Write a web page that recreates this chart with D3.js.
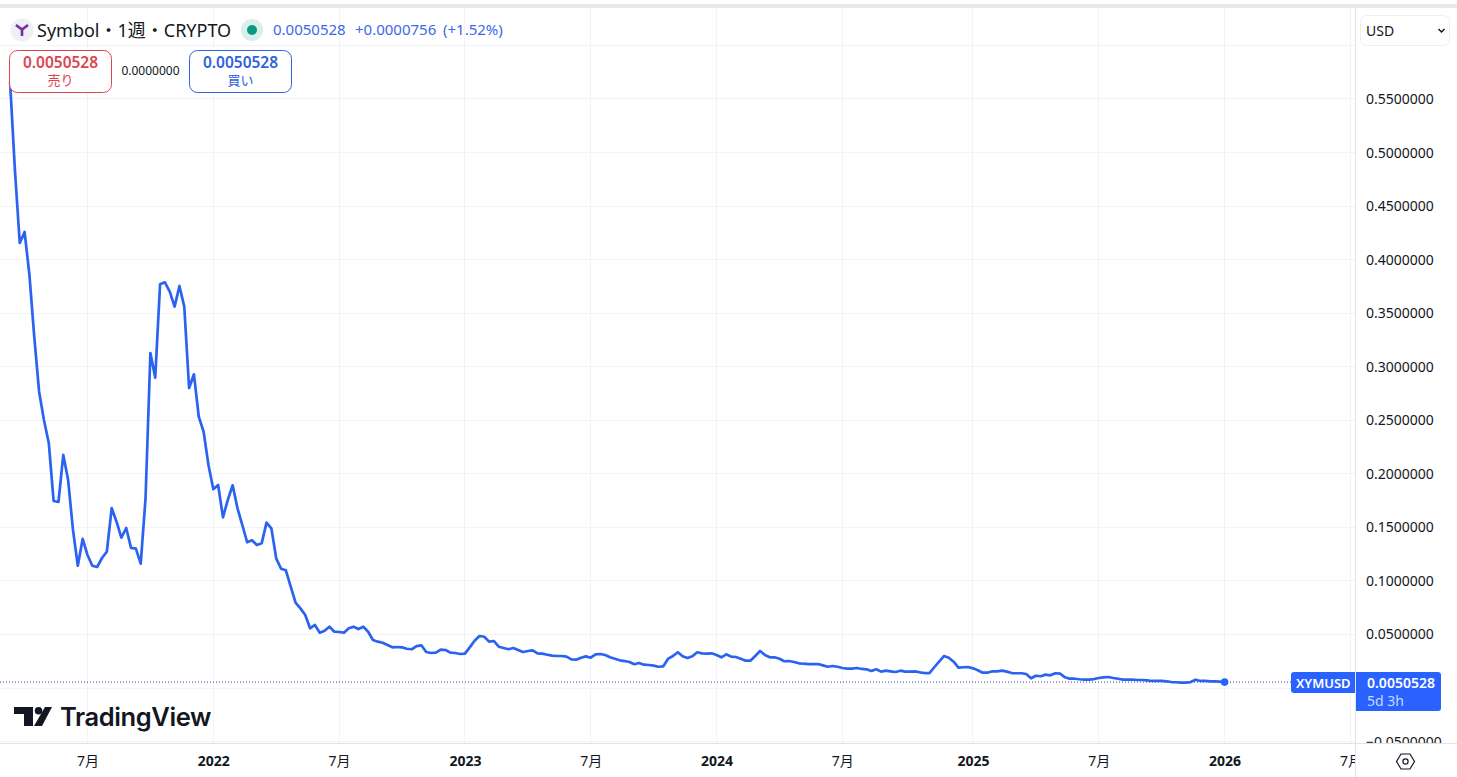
<!DOCTYPE html>
<html>
<head>
  <meta charset="utf-8">
  <title>Symbol 1週 CRYPTO</title>
  <script src="https://d3js.org/d3.v7.min.js"></script>
  <style>
    html, body { margin: 0; padding: 0; background: #fff; overflow: hidden; }
    svg { display: block; }
    text { font-family: "Noto Sans", "Noto Sans CJK JP", sans-serif; }
    .grid line { stroke: #f1f3f6; stroke-width: 1px; }
    .axis path, .axis line { display: none; }
    .axis text { font-size: 14px; fill: #131722; font-family: "Noto Sans", "Noto Sans CJK JP", sans-serif; }
    .price-line { fill: none; stroke: #2b63f0; stroke-width: 2.7px; stroke-linejoin: round; }
  </style>
</head>
<body>
  <svg width="1457" height="777"></svg>
  <script>
    // Weekly closes, XYM/USD (first bar 2021-03-15)
    const firstWeek = "2021-03-15";
    const lastWeek = "2026-01-05";
    const closes = [
      0.5654, 0.4832, 0.4150, 0.4253, 0.3852, 0.3273, 0.2762, 0.2498, 0.2283, 0.1741,
      0.1732, 0.2171, 0.1937, 0.1471, 0.1137, 0.1387, 0.1237, 0.1137, 0.1125, 0.1209,
      0.1268, 0.1676, 0.1548, 0.1399, 0.1489, 0.1303, 0.1296, 0.1156, 0.1769, 0.3123,
      0.2893, 0.3765, 0.3783, 0.3696, 0.3556, 0.3749, 0.3556, 0.2796, 0.2924, 0.2528,
      0.2388, 0.2077, 0.1851, 0.1891, 0.1589, 0.1751, 0.1888, 0.1673, 0.1517, 0.1356,
      0.1374, 0.1331, 0.1346, 0.1539, 0.1486, 0.1206, 0.1109, 0.1094, 0.0941, 0.0792,
      0.0739, 0.0677, 0.0553, 0.0584, 0.0512, 0.0530, 0.0568, 0.0521, 0.0518, 0.0512,
      0.0553, 0.0568, 0.0546, 0.0568, 0.0521, 0.0444, 0.0428, 0.0418, 0.0397, 0.0375,
      0.0378, 0.0375, 0.0362, 0.0357, 0.0387, 0.0394, 0.0331, 0.0322, 0.0325, 0.0353,
      0.0350, 0.0325, 0.0322, 0.0313, 0.0316, 0.0375, 0.0437, 0.0481, 0.0474, 0.0428,
      0.0434, 0.0381, 0.0369, 0.0357, 0.0369, 0.0350, 0.0331, 0.0341, 0.0347, 0.0319,
      0.0316, 0.0306, 0.0297, 0.0294, 0.0294, 0.0288, 0.0263, 0.0260, 0.0278, 0.0291,
      0.0278, 0.0310, 0.0313, 0.0303, 0.0282, 0.0269, 0.0254, 0.0247, 0.0238, 0.0217,
      0.0229, 0.0213, 0.0210, 0.0204, 0.0194, 0.0198, 0.0269, 0.0294, 0.0329, 0.0291,
      0.0275, 0.0291, 0.0329, 0.0319, 0.0316, 0.0319, 0.0303, 0.0282, 0.0310, 0.0288,
      0.0285, 0.0269, 0.0250, 0.0250, 0.0294, 0.0341, 0.0303, 0.0282, 0.0282, 0.0269,
      0.0245, 0.0247, 0.0238, 0.0226, 0.0222, 0.0219, 0.0219, 0.0219, 0.0207, 0.0194,
      0.0201, 0.0194, 0.0182, 0.0176, 0.0176, 0.0182, 0.0173, 0.0170, 0.0154, 0.0170,
      0.0148, 0.0157, 0.0151, 0.0145, 0.0157, 0.0148, 0.0148, 0.0151, 0.0142, 0.0135,
      0.0135, 0.0189, 0.0241, 0.0294, 0.0278, 0.0241, 0.0185, 0.0189, 0.0191, 0.0179,
      0.0161, 0.0138, 0.0138, 0.0151, 0.0151, 0.0157, 0.0148, 0.0135, 0.0133, 0.0133,
      0.0126, 0.0086, 0.0110, 0.0105, 0.0120, 0.0114, 0.0133, 0.0129, 0.0095, 0.0082,
      0.0082, 0.0077, 0.0073, 0.0073, 0.0079, 0.0089, 0.0095, 0.0098, 0.0089, 0.0082,
      0.0073, 0.0073, 0.0073, 0.0070, 0.0070, 0.0067, 0.0061, 0.0063, 0.0061, 0.0058,
      0.0051, 0.0049, 0.0045, 0.0045, 0.0051, 0.0073, 0.0061, 0.0061, 0.0058, 0.0058,
      0.0054, 0.0050528
    ];

    const yTicks = [-0.05, 0, 0.05, 0.1, 0.15, 0.2, 0.25, 0.3, 0.35, 0.4, 0.45, 0.5, 0.55, 0.6];
    const xTicks = ["2021-07-05", "2022-01-03", "2022-07-04", "2023-01-02", "2023-07-03", "2024-01-01",
                    "2024-07-01", "2025-01-06", "2025-07-07", "2026-01-05", "2026-07-06"];
    const xTickLabels = ["7月", "2022", "7月", "2023", "7月", "2024", "7月", "2025", "7月", "2026", "7月"];

    const lastClose = closes[closes.length - 1];
    const blue = "#2962ff", red = "#dd4450";

    const parse = d3.utcParse("%Y-%m-%d");
    const weeks = d3.utcMonday.range(parse(firstWeek), d3.utcDay.offset(parse(lastWeek), 1));
    const series = closes.map((c, i) => ({ date: weeks[i], close: c }));
    const xDates = xTicks.map(parse);

    const plotRight = 1355, plotBottom = 743;
    const svg = d3.select("svg");

    const x = d3.scaleUtc().domain([parse("2022-01-03"), parse("2026-01-05")]).range([213.3, 1224.6]);
    const y = d3.scaleLinear().domain([0, 0.55]).range([687.5, 98.4]);

    svg.append("clipPath").attr("id", "plot")
      .append("rect").attr("x", 0).attr("y", 8).attr("width", plotRight).attr("height", plotBottom - 8);
    svg.append("clipPath").attr("id", "yaxis")
      .append("rect").attr("x", plotRight).attr("y", 8).attr("width", 102).attr("height", plotBottom - 8);
    svg.append("clipPath").attr("id", "xaxis")
      .append("rect").attr("x", 0).attr("y", plotBottom).attr("width", plotRight).attr("height", 34);

    // top band of the page
    svg.append("rect").attr("x", 0).attr("y", 4).attr("width", 1457).attr("height", 4).attr("fill", "#e9e9ea");

    // grid
    const grid = svg.append("g").attr("class", "grid").attr("clip-path", "url(#plot)");
    grid.selectAll(".h").data(yTicks).enter().append("line")
      .attr("x1", 0).attr("x2", plotRight)
      .attr("y1", d => Math.round(y(d)) + 0.5).attr("y2", d => Math.round(y(d)) + 0.5);
    grid.selectAll(".v").data(xDates).enter().append("line")
      .attr("y1", 8).attr("y2", plotBottom)
      .attr("x1", d => Math.floor(x(d)) + 0.5).attr("x2", d => Math.floor(x(d)) + 0.5);

    // last price dotted line
    svg.append("line")
      .attr("x1", 0).attr("x2", 1291)
      .attr("y1", y(lastClose)).attr("y2", y(lastClose))
      .attr("stroke", "#2a3f9d").attr("stroke-width", 1).attr("stroke-dasharray", "1 2");

    // price line
    const line = d3.line().x(d => x(d.date)).y(d => y(d.close));
    svg.append("path").datum(series).attr("class", "price-line").attr("d", line);
    svg.append("circle")
      .attr("cx", x(series[series.length - 1].date)).attr("cy", y(lastClose))
      .attr("r", 3.8).attr("fill", blue);

    // axes frame
    svg.append("line").attr("x1", 0).attr("x2", 1457).attr("y1", plotBottom + 0.5).attr("y2", plotBottom + 0.5)
      .attr("stroke", "#e0e3eb");
    svg.append("line").attr("x1", plotRight + 0.5).attr("x2", plotRight + 0.5).attr("y1", 8).attr("y2", 777)
      .attr("stroke", "#e0e3eb");

    // y axis, clipped at the time axis
    const yAxis = d3.axisRight(y).tickValues(yTicks.filter(d => d !== 0.6 && d !== 0))
      .tickFormat(d => (d < 0 ? "\u2212" : "") + Math.abs(d).toFixed(7));
    svg.append("g").attr("clip-path", "url(#yaxis)")
      .append("g").attr("class", "axis")
      .attr("transform", "translate(1366,0)").call(yAxis)
      .call(g => g.selectAll("text").attr("x", 0).attr("dy", "0.36em"));

    // x axis, the last label is cut by the price scale
    const xAxis = d3.axisBottom(x).tickValues(xDates)
      .tickFormat((d, i) => xTickLabels[i]);
    svg.append("g").attr("clip-path", "url(#xaxis)")
      .append("g").attr("class", "axis")
      .attr("transform", "translate(0,743)").call(xAxis)
      .call(g => g.selectAll("text").attr("y", 18).attr("dy", "0.36em")
        .style("font-weight", (d, i) => xTickLabels[i] === "7月" ? 400 : 700));

    // header
    svg.append("circle").attr("cx", 22).attr("cy", 30).attr("r", 11.5).attr("fill", "#efeff8");
    svg.append("path").attr("d", "M16 25 L22 29.5 L28 25 M22 29.5 L22 36")
      .attr("fill", "none").attr("stroke", "#7b2d9e").attr("stroke-width", 2.6);
    svg.append("text").attr("x", 37).attr("y", 36.5).attr("font-size", 18).attr("fill", "#131722")
      .text("Symbol・1週・CRYPTO");
    svg.append("circle").attr("cx", 252).attr("cy", 30).attr("r", 11).attr("fill", "#d9efe9");
    svg.append("circle").attr("cx", 252).attr("cy", 30).attr("r", 5).attr("fill", "#089981");

    const headerLabels = [["0.0050528", 273], ["+0.0000756", 355], ["(+1.52%)", 443]];
    svg.selectAll(".hdr").data(headerLabels).enter().append("text")
      .attr("x", d => d[1]).attr("y", 35).attr("font-size", 15).attr("fill", "#3d68e8")
      .text(d => d[0]);

    // sell / buy buttons
    const buttons = [[9.5, red, "売り"], [189.5, "#2f62e0", "買い"]];
    buttons.forEach(b => {
      svg.append("rect").attr("x", b[0]).attr("y", 50.5).attr("width", 102).attr("height", 42).attr("rx", 8)
        .attr("fill", "#fff").attr("fill-opacity", 0.9).attr("stroke", b[1]);
      svg.append("text").attr("x", b[0] + 51).attr("y", 68).attr("text-anchor", "middle")
        .attr("font-size", 15.5).attr("font-weight", 600).attr("fill", b[1]).text(lastClose.toFixed(7));
      svg.append("text").attr("x", b[0] + 51).attr("y", 85).attr("text-anchor", "middle")
        .attr("font-size", 13).attr("fill", b[1]).text(b[2]);
    });
    svg.append("text").attr("x", 150.5).attr("y", 75).attr("text-anchor", "middle")
      .attr("font-size", 12).attr("fill", "#131722").text("0.0000000");

    // currency box
    svg.append("rect").attr("x", 1360.5).attr("y", 15.5).attr("width", 89).attr("height", 30).attr("rx", 6)
      .attr("fill", "#fff").attr("stroke", "#eeeff2");
    svg.append("text").attr("x", 1366).attr("y", 35.5).attr("font-size", 14).attr("fill", "#131722").text("USD");
    svg.append("path").attr("d", "M1438.5 29 L1441.5 32 L1444.5 29").attr("fill", "none")
      .attr("stroke", "#131722").attr("stroke-width", 1.5);

    // price labels
    svg.append("path").attr("d", "M1294 672 H1355 V693 H1294 Q1291 693 1291 690 V675 Q1291 672 1294 672 Z").attr("fill", blue);
    svg.append("path").attr("d", "M1356 672 H1438 Q1441 672 1441 675 V708 Q1441 711 1438 711 H1356 Z").attr("fill", blue);
    svg.append("text").attr("x", 1296).attr("y", 688).attr("font-size", 13).attr("font-weight", 600)
      .attr("fill", "#fff").text("XYMUSD");
    svg.append("text").attr("x", 1367).attr("y", 688).attr("font-size", 14).attr("font-weight", 600)
      .attr("fill", "#fff").text(lastClose.toFixed(7));
    svg.append("text").attr("x", 1367).attr("y", 706).attr("font-size", 14).attr("fill", "#fff")
      .attr("fill-opacity", 0.75).text("5d 3h");

    // TradingView logo
    const logo = svg.append("g").attr("fill", "#131722");
    logo.append("path").attr("d", "M14 707 H33 V726 H24 V714 H14 Z");
    logo.append("circle").attr("cx", 38.5).attr("cy", 710.8).attr("r", 3.8);
    logo.append("path").attr("d", "M45 707 H52 L42 726 H34 Z");
    logo.append("text").attr("x", 60).attr("y", 725.5).attr("font-size", 25.5).attr("font-weight", 600)
      .style("font-family", "Inter, sans-serif").attr("letter-spacing", "-0.4").text("TradingView");

    // settings icon
    svg.append("path").attr("d", "M1401 754 H1410 L1414.5 761.5 L1410 769 H1401 L1396.5 761.5 Z")
      .attr("fill", "none").attr("stroke", "#131722").attr("stroke-width", 1.2);
    svg.append("circle").attr("cx", 1405.5).attr("cy", 761.5).attr("r", 2.6)
      .attr("fill", "none").attr("stroke", "#131722").attr("stroke-width", 1.2);
  </script>
</body>
</html>
